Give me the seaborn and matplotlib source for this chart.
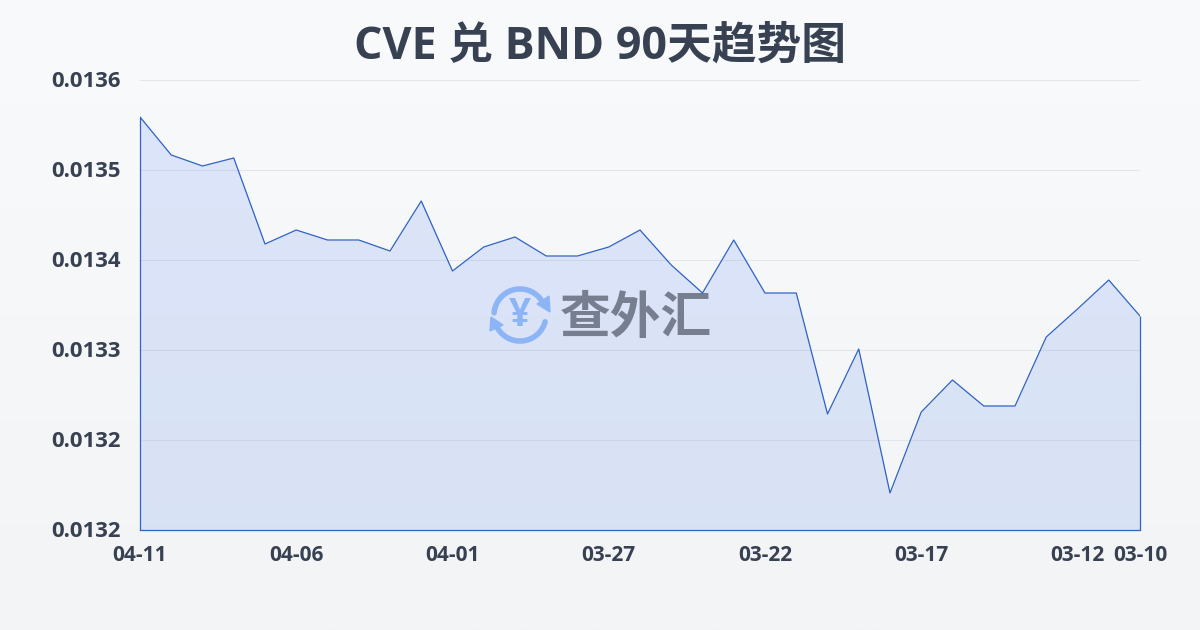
"""
CVE / BND 90 day trend area chart.
"""

import numpy as np
import pandas as pd
import matplotlib
matplotlib.use("Agg")
import matplotlib.pyplot as plt
from matplotlib.colors import LinearSegmentedColormap
from matplotlib.patches import Polygon
from matplotlib.transforms import ScaledTranslation
import seaborn as sns

# ─── Data ────────────────────────────────────────────────────────────────────

dates = [
    "04-11", "04-10", "04-09", "04-08", "04-07", "04-06", "04-05", "04-04", "04-03",
    "04-02", "04-01", "03-31", "03-30", "03-29", "03-28", "03-27", "03-26", "03-25",
    "03-24", "03-23", "03-22", "03-21", "03-20", "03-19", "03-18", "03-17", "03-16",
    "03-15", "03-14", "03-13", "03-12", "03-11", "03-10",
]
rates = [
    0.013563, 0.013525, 0.013514, 0.013522, 0.013436, 0.013450, 0.013440, 0.013440,
    0.013429, 0.013479, 0.013409, 0.013433, 0.013443, 0.013424, 0.013424, 0.013433,
    0.013450, 0.013415, 0.013387, 0.013440, 0.013387, 0.013387, 0.013266, 0.013331,
    0.013187, 0.013268, 0.013300, 0.013274, 0.013274, 0.013343, 0.013371, 0.013400,
    0.013364,
]
x_tick_labels = ["04-11", "04-06", "04-01", "03-27", "03-22", "03-17", "03-12", "03-10"]
y_ticks = [0.0136, 0.01351, 0.01342, 0.01333, 0.01324, 0.01315]
y_tick_labels = ["0.0136", "0.0135", "0.0134", "0.0133", "0.0132", "0.0132"]

TITLE = "CVE 兑 BND 90天趋势图"
WATERMARK = "查外汇"

LINE_COLOR = "#2f62c4"
FILL_COLOR = "#2864eb"
TEXT_COLOR = "#374151"
GRID_COLOR = "#e3e6ea"
ICON_COLOR = "#9dc2f7"
MARK_COLOR = "#838383"


def draw_background(fig):
    bg = fig.add_axes([0, 0, 1, 1], zorder=0)
    cmap = LinearSegmentedColormap.from_list("bg", ["#f8fafc", "#f3f4f6"])
    bg.imshow(np.linspace(0, 1, 256).reshape(-1, 1), cmap=cmap, aspect="auto",
              extent=[0, 1200, 630, 0])
    bg.set_xlim(0, 1200)
    bg.set_ylim(630, 0)
    bg.axis("off")

    # watermark logo, pixel coordinates
    cx, cy, r = 520, 315, 26
    for start, stop in [(185, 325), (15, 150)]:
        theta = np.radians(np.arange(start, stop, 2))
        bg.plot(cx + r * np.cos(theta), cy + r * np.sin(theta), color=ICON_COLOR,
                lw=4, solid_capstyle="round")
    bg.add_patch(Polygon([(537, 304), (549, 296), (550, 312)], color=ICON_COLOR))
    bg.add_patch(Polygon([(491, 317), (490, 331), (503, 325)], color=ICON_COLOR))
    bg.text(cx, cy, "¥", color=ICON_COLOR, fontsize=28, fontweight="bold",
            ha="center", va="center", family=["Open Sans", "DejaVu Sans"])
    bg.text(636, 318, WATERMARK, color=MARK_COLOR, fontsize=36.5, fontweight="bold",
            ha="center", va="center", family=["Noto Sans CJK SC", "DejaVu Sans"])


def main():
    sns.set_theme(style="white")
    plt.rcParams["font.family"] = ["Open Sans", "Noto Sans CJK SC", "DejaVu Sans"]

    fig = plt.figure(figsize=(12, 6.3), dpi=100)
    draw_background(fig)

    ax = fig.add_axes([140 / 1200, 100 / 630, 1000 / 1200, 450 / 630], zorder=1)
    ax.patch.set_alpha(0)

    df = pd.DataFrame({"date": dates, "rate": rates})
    sns.lineplot(data=df, x="date", y="rate", sort=False, color=LINE_COLOR, lw=0.9,
                 errorbar=None, ax=ax, zorder=3)
    ax.fill_between(dates, rates, y_ticks[-1], color=FILL_COLOR, alpha=0.13, lw=0, zorder=2)
    ax.vlines([dates[0], dates[-1]], y_ticks[-1], [rates[0], rates[-1]], color=LINE_COLOR,
              lw=0.9, zorder=3, clip_on=False)

    ax.set_xlim(0, len(dates) - 1)
    ax.set_ylim(y_ticks[-1], y_ticks[0])
    ax.set_xticks(x_tick_labels)
    ax.set_yticks(y_ticks, y_tick_labels)
    ax.set_xlabel("")
    ax.set_ylabel("")

    ax.grid(axis="y", color=GRID_COLOR, lw=0.75, zorder=1)
    ax.grid(axis="x", visible=False)
    for name in ["top", "left", "right"]:
        ax.spines[name].set_visible(False)
    ax.spines["bottom"].set_color(LINE_COLOR)
    ax.spines["bottom"].set_linewidth(0.9)
    ax.spines["bottom"].set_zorder(4)

    ax.tick_params(axis="y", length=0, pad=14, labelsize=15.9, labelcolor=TEXT_COLOR)
    ax.tick_params(axis="x", length=7, width=0.75, color=GRID_COLOR, pad=3.5, labelsize=15,
                   labelcolor=TEXT_COLOR)
    for label in ax.get_xticklabels() + ax.get_yticklabels():
        label.set_fontweight("bold")

    # y labels sit a pixel above their grid lines
    up = ScaledTranslation(0, 1 / 100, fig.dpi_scale_trans)
    for label in ax.get_yticklabels():
        label.set_transform(label.get_transform() + up)

    fig.text(0.5, 1 - 47 / 630, TITLE, ha="center", va="center", fontsize=32.2,
             fontweight="bold", color=TEXT_COLOR)

    fig.savefig("out.png", dpi=100)
    plt.close(fig)


if __name__ == "__main__":
    main()
